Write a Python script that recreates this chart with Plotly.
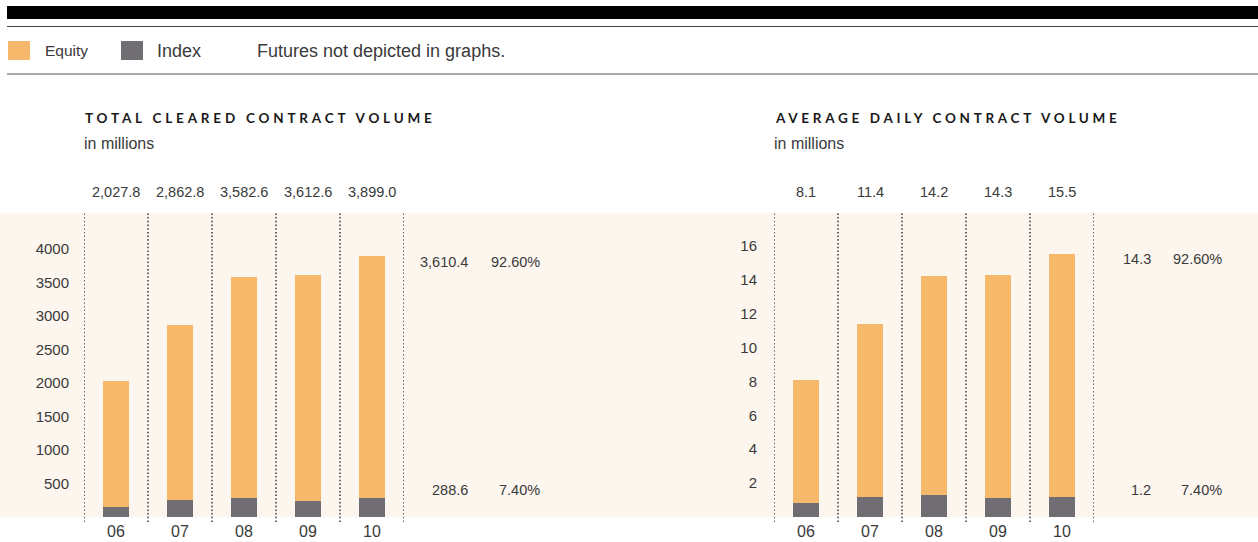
import plotly.graph_objects as go

# ---------------- data ----------------
years = ["06", "07", "08", "09", "10"]

# Total cleared contract volume (millions)
total_volume = [2027.8, 2862.8, 3582.6, 3612.6, 3899.0]
index_volume = [150.0, 257.0, 289.0, 235.0, 288.6]
equity_volume = [round(t - i, 1) for t, i in zip(total_volume, index_volume)]

# Average daily contract volume (millions)
total_adv = [8.1, 11.4, 14.2, 14.3, 15.5]
index_adv = [0.8, 1.2, 1.3, 1.1, 1.2]
equity_adv = [round(t - i, 1) for t, i in zip(total_adv, index_adv)]

volume_ticks = [500, 1000, 1500, 2000, 2500, 3000, 3500, 4000]
adv_ticks = [2, 4, 6, 8, 10, 12, 14, 16]

# ---------------- style ----------------
W, H = 1258, 542
ORANGE = "#F6B86A"
GREY = "#706E73"
BAND = "#FDF6EF"
TEXT = "#3a3a3a"
FONT = "Liberation Sans"
TITLE_FONT = "Lato"


def px(x):
    return x / W


def py(y):
    return 1 - y / H


fig = go.Figure()

for xa, ya, idx, eq in [("x", "y", index_volume, equity_volume),
                        ("x2", "y2", index_adv, equity_adv)]:
    fig.add_trace(go.Bar(x=years, y=idx, name="Index", marker_color=GREY,
                         marker_line_width=0, width=0.42, xaxis=xa, yaxis=ya,
                         showlegend=False, hoverinfo="skip"))
    fig.add_trace(go.Bar(x=years, y=eq, name="Equity", marker_color=ORANGE,
                         marker_line_width=0, width=0.42, xaxis=xa, yaxis=ya,
                         showlegend=False, hoverinfo="skip"))

band_bottom, band_top = 517, 213
ydom = [py(band_bottom), py(band_top)]

axis_common = dict(showgrid=False, zeroline=False, showline=False, ticks="",
                   fixedrange=True, automargin=False)

fig.update_layout(
    width=W, height=H, autosize=False,
    margin=dict(l=0, r=0, t=0, b=0, pad=0),
    paper_bgcolor="white", plot_bgcolor="rgba(0,0,0,0)",
    barmode="stack", bargap=0,
    font=dict(family=FONT, color=TEXT),
    xaxis=dict(domain=[px(84), px(404)], range=[-0.5, 4.5], type="category",
               tickfont=dict(size=16, color=TEXT), ticklabelstandoff=3,
               **axis_common),
    yaxis=dict(domain=ydom, range=[0, 4537], tickvals=volume_ticks,
               tickfont=dict(size=15, color=TEXT), ticklabelstandoff=14,
               anchor="x", **axis_common),
    xaxis2=dict(domain=[px(774), px(1094)], range=[-0.5, 4.5], type="category",
                tickfont=dict(size=16, color=TEXT), ticklabelstandoff=3,
                anchor="y2", **axis_common),
    yaxis2=dict(domain=ydom, range=[0, 17.93], tickvals=adv_ticks,
                tickfont=dict(size=15, color=TEXT), ticklabelstandoff=16,
                anchor="x2", **axis_common),
)

shapes = []
# background band
shapes.append(dict(type="rect", xref="paper", yref="paper", x0=0, x1=1,
                   y0=py(band_bottom), y1=py(band_top), fillcolor=BAND,
                   line_width=0, layer="below"))
# header rules
shapes.append(dict(type="rect", xref="paper", yref="paper", x0=px(7), x1=1,
                   y0=py(19), y1=py(6), fillcolor="black", line_width=0))
shapes.append(dict(type="line", xref="paper", yref="paper", x0=px(7), x1=1,
                   y0=py(26.5), y1=py(26.5), line=dict(color="#444", width=1.2)))
shapes.append(dict(type="line", xref="paper", yref="paper", x0=px(7), x1=1,
                   y0=py(74), y1=py(74), line=dict(color="#555", width=1)))
# legend swatches
shapes.append(dict(type="rect", xref="paper", yref="paper", x0=px(8), x1=px(30),
                   y0=py(60), y1=py(41), fillcolor=ORANGE, line_width=0))
shapes.append(dict(type="rect", xref="paper", yref="paper", x0=px(121), x1=px(143),
                   y0=py(60), y1=py(41), fillcolor=GREY, line_width=0))
# dotted category separators
for xr in ["x", "x2"]:
    for k in range(len(years) + 1):
        shapes.append(dict(type="line", xref=xr, yref="paper",
                           x0=k - 0.5, x1=k - 0.5, y0=py(522), y1=py(band_top),
                           line=dict(color="#444", width=1.6, dash="1.5px,2.2px")))
fig.update_layout(shapes=shapes)

ann = []


def text(x, y, s, size, xanchor="left", color=TEXT, family=FONT, xref="paper",
         weight="normal", **kw):
    ann.append(dict(x=x if xref != "paper" else px(x), y=py(y), xref=xref,
                    yref="paper", text=s, showarrow=False, xanchor=xanchor,
                    yanchor="middle",
                    font=dict(size=size, color=color, family=family, weight=weight),
                    **kw))


# legend text
text(43, 51, "Equity", 15.5)
text(155, 51, "Index", 18)
text(255, 51, "Futures not depicted in graphs.", 18)

# titles
text(83, 118, "TOTAL CLEARED CONTRACT VOLUME", 13.5, color="#1a1a1a",
     family=TITLE_FONT, weight="bold", align="left")
text(773, 118, "AVERAGE DAILY CONTRACT VOLUME", 13.5, color="#1a1a1a",
     family=TITLE_FONT, weight="bold", align="left")
text(82, 143, "in millions", 16)
text(772, 143, "in millions", 16)

# totals above bars (category index positions)
for k, v in enumerate(total_volume):
    text(k, 192, f"{v:,.1f}", 14.5, xanchor="center", xref="x")
for k, v in enumerate(total_adv):
    text(k, 192, f"{v:,.1f}", 14.5, xanchor="center", xref="x2")

# latest-year breakdown
eq_share = equity_volume[-1] / total_volume[-1] * 100
ix_share = index_volume[-1] / total_volume[-1] * 100
text(470, 262, f"{equity_volume[-1]:,.1f}", 14.5, xanchor="right")
text(542, 262, f"{eq_share:.2f}%", 14.5, xanchor="right")
text(470, 490, f"{index_volume[-1]:,.1f}", 14.5, xanchor="right")
text(542, 490, f"{ix_share:.2f}%", 14.5, xanchor="right")

text(1153, 259, f"{equity_adv[-1]:,.1f}", 14.5, xanchor="right")
text(1224, 259, f"{eq_share:.2f}%", 14.5, xanchor="right")
text(1153, 490, f"{index_adv[-1]:,.1f}", 14.5, xanchor="right")
text(1224, 490, f"{ix_share:.2f}%", 14.5, xanchor="right")

fig.update_layout(annotations=ann)

# letter-spaced section titles
post = """
var targets = {'TOTAL CLEARED CONTRACT VOLUME': 347, 'AVERAGE DAILY CONTRACT VOLUME': 342};
document.querySelectorAll('text.annotation-text').forEach(function(t){
  var s = t.textContent;
  if (targets[s]) {
    var b0 = t.getBBox();
    var ls = (targets[s] - b0.width) / (s.length - 1);
    t.style.letterSpacing = ls.toFixed(2) + 'px';
    var b1 = t.getBBox();
    var dx = b0.x - b1.x;
    if (Math.abs(dx) > 0.1) {
      t.setAttribute('transform', 'translate(' + dx + ',0)');
    }
  }
});
"""

fig.write_html("out.html", post_script=post, config={"staticPlot": True})
